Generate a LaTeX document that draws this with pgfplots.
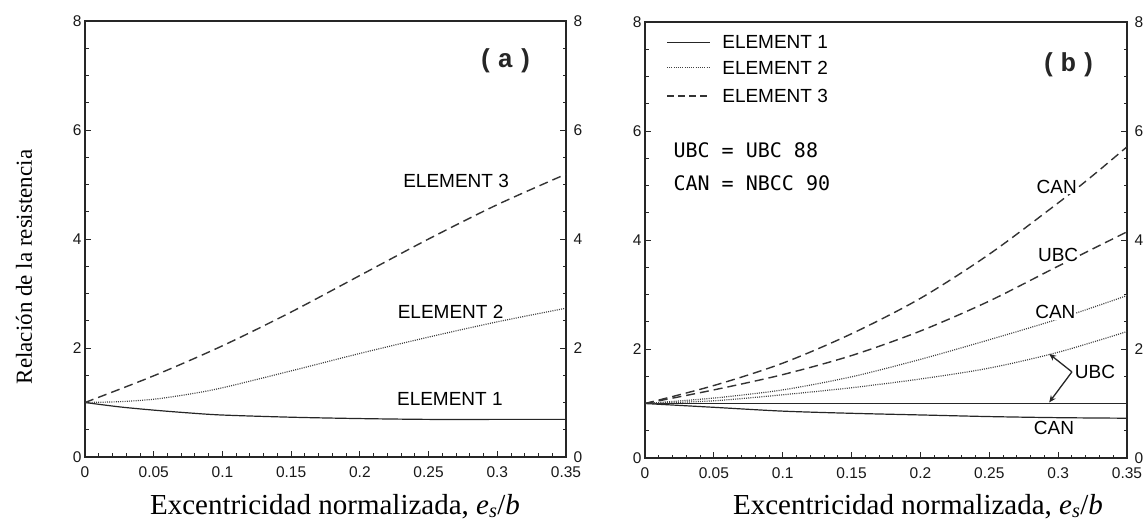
\documentclass[border=0pt]{standalone}
\usepackage{fontspec}
\setmainfont{Liberation Serif}
\newfontfamily\hsans{Liberation Sans}
\newfontfamily\cmono{Liberation Mono}
\newfontfamily\dmono{DejaVu Sans Mono}
\usepackage{pgfplots}
\pgfplotsset{compat=1.18}
\usetikzlibrary{arrows.meta}

\tikzset{
  e1/.style={line width=1.2pt, black!85},
  e2/.style={line width=1.2pt, black!75, dash pattern=on 1pt off 1.2pt},
  e3/.style={line width=1.4pt, black!80, dash pattern=on 9pt off 5pt},
}
\pgfplotsset{
  panel/.style={
    scale only axis, width=481pt, height=436pt,
    xmin=0, xmax=0.35, ymin=0, ymax=8,
    xtick={0,0.05,0.1,0.15,0.2,0.25,0.3,0.35},
    xticklabels={0,0.05,0.1,0.15,0.2,0.25,0.3,0.35},
    ytick={0,2,4,6,8},
    minor x tick num=4, minor y tick num=3,
    tick align=inside,
    xtick pos=lower, ytick pos=both, yticklabel pos=left,
    major tick length=6pt, minor tick length=3.5pt,
    every tick/.style={black!85, line width=0.9pt},
    axis line style={line width=1.8pt, black!85},
    ticklabel style={font=\fontsize{15.5}{15.5}\selectfont\hsans, text=black!90},
    /pgf/number format/assume math mode=true,
    xticklabel style={yshift=-6pt},
    clip=false,
  },
  rightlab/.style={
    scale only axis, width=481pt, height=436pt,
    xmin=0, xmax=0.35, ymin=0, ymax=8,
    hide x axis, axis y line*=right,
    axis line style={draw=none},
    ytick={0,2,4,6,8}, major tick length=0pt, minor tick num=0,
    yticklabel style={font=\fontsize{15.5}{15.5}\selectfont\hsans, text=black!90, xshift=4pt},
    /pgf/number format/assume math mode=true,
  },
}
\newcommand{\lab}{\fontsize{19}{19}\selectfont\hsans}

\begin{document}
\begin{tikzpicture}
\path[use as bounding box] (0,0) rectangle (1145pt,522pt);

% ---------- panel (a)
\begin{axis}[panel, at={(85pt,65pt)}, anchor=south west]
\addplot[e1, smooth] coordinates {(0,1.0)(0.025,0.92)(0.05,0.86)(0.075,0.81)(0.1,0.77)(0.15,0.73)(0.2,0.705)(0.25,0.69)(0.3,0.69)(0.35,0.69)};
\addplot[e2, smooth] coordinates {(0,1.0)(0.025,1.015)(0.05,1.06)(0.075,1.15)(0.1,1.27)(0.15,1.58)(0.2,1.90)(0.25,2.20)(0.3,2.48)(0.35,2.73)};
\addplot[e3, smooth] coordinates {(0,1.0)(0.05,1.49)(0.1,2.04)(0.15,2.66)(0.2,3.33)(0.25,4.0)(0.3,4.63)(0.35,5.19)};
\node[font=\lab] at (axis cs:0.270,5.07) {ELEMENT 3};
\node[font=\lab] at (axis cs:0.266,2.67) {ELEMENT 2};
\node[font=\lab] at (axis cs:0.2655,1.06) {ELEMENT 1};
\node[font=\fontsize{26}{26}\selectfont\cmono\bfseries, text=black!85] at (axis cs:0.306,7.27) {(\hspace{4pt}a\hspace{4pt})};
\end{axis}
\begin{axis}[rightlab, at={(85pt,65pt)}, anchor=south west]
\addplot[draw=none] coordinates {(0,0)};
\end{axis}

% ---------- panel (b)
\begin{axis}[panel, at={(645pt,64pt)}, anchor=south west, width=482pt]
\addplot[e1] coordinates {(0,1.0)(0.35,1.0)};
\addplot[e1, smooth] coordinates {(0,1.0)(0.05,0.93)(0.1,0.86)(0.15,0.82)(0.2,0.79)(0.25,0.76)(0.3,0.74)(0.35,0.73)};
\addplot[e2, smooth] coordinates {(0,1.0)(0.05,1.05)(0.1,1.16)(0.15,1.29)(0.2,1.45)(0.25,1.65)(0.3,1.94)(0.35,2.32)};
\addplot[e2, smooth] coordinates {(0,1.0)(0.05,1.10)(0.1,1.25)(0.15,1.49)(0.2,1.81)(0.25,2.17)(0.3,2.55)(0.35,2.98)};
\addplot[e3, smooth] coordinates {(0,1.0)(0.05,1.25)(0.1,1.53)(0.15,1.88)(0.2,2.33)(0.25,2.88)(0.3,3.52)(0.35,4.15)};
\addplot[e3, smooth] coordinates {(0,1.0)(0.05,1.33)(0.1,1.74)(0.15,2.28)(0.2,2.93)(0.25,3.74)(0.3,4.68)(0.325,5.18)(0.35,5.71)};
% legend
\draw[e1] (axis cs:0.016,7.63) -- (axis cs:0.047,7.63);
\draw[e2] (axis cs:0.016,7.16) -- (axis cs:0.047,7.16);
\draw[e3, dash pattern=on 7pt off 4pt] (axis cs:0.016,6.645) -- (axis cs:0.047,6.645);
\node[font=\lab, anchor=west, inner sep=0pt] at (axis cs:0.056,7.63) {ELEMENT 1};
\node[font=\lab, anchor=west, inner sep=0pt] at (axis cs:0.056,7.16) {ELEMENT 2};
\node[font=\lab, anchor=west, inner sep=0pt] at (axis cs:0.056,6.645) {ELEMENT 3};
\node[font=\fontsize{20}{20}\selectfont\dmono, anchor=west, inner sep=0pt] at (axis cs:0.0206,5.64) {UBC = UBC 88};
\node[font=\fontsize{20}{20}\selectfont\dmono, anchor=west, inner sep=0pt] at (axis cs:0.0206,5.04) {CAN = NBCC 90};
\node[font=\fontsize{26}{26}\selectfont\cmono\bfseries, text=black!85] at (axis cs:0.3075,7.22) {(\hspace{4pt}b\hspace{4pt})};
% curve labels
\node[font=\lab, fill=white, inner sep=1pt] at (axis cs:0.299,4.98) {CAN};
\node[font=\lab, fill=white, inner sep=1pt] at (axis cs:0.300,3.72) {UBC};
\node[font=\lab, fill=white, inner sep=1pt] at (axis cs:0.298,2.68) {CAN};
\node[font=\lab, anchor=west, inner sep=0pt] at (axis cs:0.312,1.58) {UBC};
\node[font=\lab] at (axis cs:0.297,0.55) {CAN};
\draw[line width=1.3pt, black!85, -{Stealth[length=7pt,width=6pt]}] (axis cs:0.310,1.58) -- (axis cs:0.2935,1.91);
\draw[line width=1.3pt, black!85, -{Stealth[length=7pt,width=6pt]}] (axis cs:0.310,1.58) -- (axis cs:0.2935,1.02);
\end{axis}
\begin{axis}[rightlab, at={(645pt,64pt)}, anchor=south west, width=482pt]
\addplot[draw=none] coordinates {(0,0)};
\end{axis}

% axis titles
\node[rotate=90, font=\fontsize{23}{23}\selectfont] at (24pt,255pt) {Relación de la resistencia};
\node[anchor=base, font=\fontsize{29}{29}\selectfont, inner sep=0pt] at (335pt,8pt) {Excentricidad normalizada, \textit{e}\textsubscript{\textit{s}}/\textit{b}};
\node[anchor=base, font=\fontsize{29}{29}\selectfont, inner sep=0pt] at (918pt,8pt) {Excentricidad normalizada, \textit{e}\textsubscript{\textit{s}}/\textit{b}};
\end{tikzpicture}
\end{document}
